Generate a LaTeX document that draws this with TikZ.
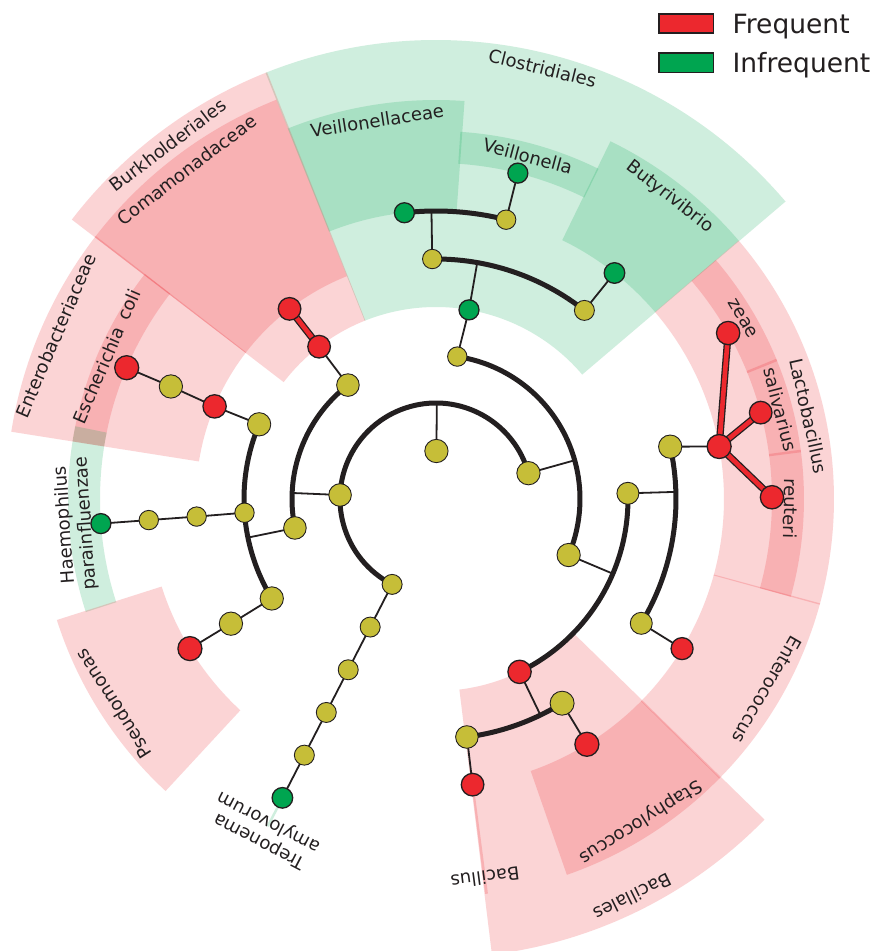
\documentclass[tikz,border=0pt]{standalone}
\usepackage{fontspec}
\setmainfont{DejaVu Sans}
\definecolor{outl}{RGB}{35,31,32}
\definecolor{cred}{RGB}{236,40,46}
\definecolor{cgreen}{RGB}{0,165,80}
\definecolor{cyel}{RGB}{198,190,56}
\definecolor{sred}{RGB}{237,28,36}
\definecolor{sgreen}{RGB}{0,166,81}
\definecolor{txt}{RGB}{35,31,32}
\pgfdeclarelayer{bg}
\pgfdeclarelayer{edges}
\pgfsetlayers{bg,edges,main}
\newcommand{\sect}[5]{\fill[#5, fill opacity=0.19] (#1:#3pt) arc[start angle=#1, end angle=#2, radius=#3pt] -- (#2:#4pt) arc[start angle=#2, end angle=#1, radius=#4pt] -- cycle;}
\begin{document}
\begin{tikzpicture}[x=1pt,y=1pt,
  yn/.style={circle,draw=outl,line width=0.9pt,fill=cyel,inner sep=0pt},
  rn/.style={circle,draw=outl,line width=1.3pt,fill=cred,inner sep=0pt},
  gn/.style={circle,draw=outl,line width=1.3pt,fill=cgreen,inner sep=0pt},
  br/.style={draw=outl,line width=1.8pt},
  clade/.style={draw=outl,line width=5pt},
  redge/.style={draw=outl,double=cred,double distance=4.6pt,line width=1.3pt},
  lbl/.style={text=txt,font=\fontsize{18}{21}\selectfont,inner sep=0pt,align=center},
  leg/.style={draw=outl,line width=1.5pt,minimum width=54.2pt,minimum height=19.2pt,inner sep=0pt},
  legt/.style={anchor=base west,inner sep=0pt,text=txt,font=\fontsize{26.5}{30}\selectfont}]
\useasboundingbox (-436,-452) rectangle (441,499);
\begin{pgfonlayer}{bg}
\fill[white] (-436,-452) rectangle (441,499);
% Clostridiales group
\sect{40.4}{111.8}{192}{459}{sgreen}
\sect{85.9}{111.8}{288}{399}{sgreen}
\sect{63.8}{86.2}{336}{368}{sgreen}
\sect{40.5}{64}{288}{398}{sgreen}
% Proteobacteria
\sect{111.6}{142.5}{192}{459}{sred}
\sect{111.8}{142.5}{240}{430}{sred}
\sect{142.3}{171}{240}{430}{sred}
\sect{142.3}{171}{336}{368}{sred}
\sect{168.6}{197.9}{336}{368}{sgreen}
\sect{197.7}{227.2}{288}{398}{sred}
\sect{242.6}{243.0}{336}{368}{sgreen}
% Bacilli
\sect{-83}{-44.3}{192}{459}{sred}
\sect{-82.9}{-82.5}{288}{398}{sred}
\sect{-70.8}{-44.5}{288}{398}{sred}
\sect{-44.6}{-15.2}{288}{398}{sred}
\sect{-15.4}{40.5}{288}{398}{sred}
\sect{22.0}{40.5}{336}{368}{sred}
\sect{7.3}{22.4}{336}{368}{sred}
\sect{-15.4}{7.7}{336}{368}{sred}
\end{pgfonlayer}

% nodes
\node[yn,minimum size=23.3pt] (root) at (89.5:48pt) {};
\node[yn,minimum size=20pt] (p1) at (242.8:96pt) {};
\node[yn,minimum size=22.6pt] (p2) at (177.6:96pt) {};
\node[yn,minimum size=23.3pt] (p3) at (15.6:96pt) {};
\node[yn,minimum size=20pt] (tr3) at (242.8:144pt) {};
\node[yn,minimum size=20pt] (tr4) at (242.8:192pt) {};
\node[yn,minimum size=20pt] (tr5) at (242.8:240pt) {};
\node[yn,minimum size=20pt] (tr6) at (242.8:288pt) {};
\node[gn,minimum size=20.6pt] (tr7) at (242.8:336pt) {};
\node[yn,minimum size=22.6pt] (beta) at (127.7:144pt) {};
\node[rn,minimum size=22.6pt] (burk) at (127.5:192pt) {};
\node[rn,minimum size=22.6pt] (coma) at (127.6:240pt) {};
\node[yn,minimum size=22.6pt] (gam) at (191.6:144pt) {};
\node[yn,minimum size=23.3pt] (entb) at (157.1:192pt) {};
\node[rn,minimum size=23.3pt] (entc) at (157.3:240pt) {};
\node[yn,minimum size=23.3pt] (esch) at (157.0:288pt) {};
\node[rn,minimum size=24pt] (ecol) at (157.0:336pt) {};
\node[yn,minimum size=19.4pt] (past) at (184.1:192pt) {};
\node[yn,minimum size=19.4pt] (pas5) at (184.2:240pt) {};
\node[yn,minimum size=19.4pt] (pas6) at (184.2:288pt) {};
\node[gn,minimum size=20pt] (haem) at (184.2:336pt) {};
\node[yn,minimum size=23.3pt] (psm4) at (211.2:192pt) {};
\node[yn,minimum size=23.3pt] (psm5) at (211.3:240pt) {};
\node[rn,minimum size=24pt] (psm6) at (211.3:288pt) {};
\node[yn,minimum size=19.4pt] (clo3) at (81.5:144pt) {};
\node[gn,minimum size=20pt] (clo4) at (80.1:192pt) {};
\node[yn,minimum size=19.4pt] (fa5) at (90.9:240pt) {};
\node[gn,minimum size=20pt] (veil6) at (96.3:288pt) {};
\node[yn,minimum size=19.4pt] (vg6) at (75.9:288pt) {};
\node[gn,minimum size=20pt] (vg7) at (75.9:336pt) {};
\node[yn,minimum size=20pt] (fb5) at (51.8:240pt) {};
\node[gn,minimum size=20.6pt] (buty) at (51.7:288pt) {};
\node[yn,minimum size=23.3pt] (bac3) at (-22.9:144pt) {};
\node[yn,minimum size=22pt] (lac4) at (1.7:192pt) {};
\node[yn,minimum size=23.3pt] (lac5) at (12.6:240pt) {};
\node[rn,minimum size=24pt] (lac6) at (10.5:288pt) {};
\node[rn,minimum size=23.3pt] (zeae) at (29.6:336pt) {};
\node[rn,minimum size=22.6pt] (sali) at (14.9:336pt) {};
\node[rn,minimum size=23.3pt] (reut) at (0.3:336pt) {};
\node[yn,minimum size=22pt] (ent5) at (-31.2:240pt) {};
\node[rn,minimum size=22pt] (ent6) at (-31.3:288pt) {};
\node[rn,minimum size=23.3pt] (bcl4) at (-64.2:192pt) {};
\node[yn,minimum size=22.6pt] (bcl5) at (-82.6:240pt) {};
\node[rn,minimum size=22.6pt] (bcl6) at (-82.7:288pt) {};
\node[yn,minimum size=24pt] (stp5) at (-58.3:240pt) {};
\node[rn,minimum size=24pt] (stp6) at (-58.4:288pt) {};

% junctions on arcs
\coordinate (j-root) at (89.5:96pt);
\coordinate (j-p2) at (177.6:144pt);
\coordinate (j-gam) at (191.6:192pt);
\coordinate (j-p3) at (15.6:144pt);
\coordinate (j-clo4) at (80.1:240pt);
\coordinate (j-fa5) at (90.9:288pt);
\coordinate (j-bac3) at (-22.9:192pt);
\coordinate (j-lac4) at (1.7:240pt);
\coordinate (j-bcl4) at (-64.2:240pt);

\begin{pgfonlayer}{edges}
\draw[clade] (p3.center) arc[start angle=15.6,end angle=242.8,radius=96pt];
\draw[clade] (beta.center) arc[start angle=127.7,end angle=191.6,radius=144pt];
\draw[clade] (entb.center) arc[start angle=157.1,end angle=211.2,radius=192pt];
\draw[clade] (bac3.center) arc[start angle=-22.9,end angle=81.5,radius=144pt];
\draw[clade] (fb5.center) arc[start angle=51.8,end angle=90.9,radius=240pt];
\draw[clade] (vg6.center) arc[start angle=75.9,end angle=96.3,radius=288pt];
\draw[clade] (bcl4.center) arc[start angle=-64.2,end angle=1.7,radius=192pt];
\draw[clade] (ent5.center) arc[start angle=-31.2,end angle=12.6,radius=240pt];
\draw[clade] (bcl5.center) arc[start angle=-82.6,end angle=-58.3,radius=240pt];
\draw[br] (root.center) -- (j-root);
\draw[br] (p2.center) -- (j-p2);
\draw[br] (gam.center) -- (j-gam);
\draw[br] (p3.center) -- (j-p3);
\draw[br] (clo4.center) -- (j-clo4);
\draw[br] (fa5.center) -- (j-fa5);
\draw[br] (bac3.center) -- (j-bac3);
\draw[br] (lac4.center) -- (j-lac4);
\draw[br] (bcl4.center) -- (j-bcl4);
\draw[br] (p1.center) -- (tr3.center) -- (tr4.center) -- (tr5.center) -- (tr6.center) -- (tr7.center);
\draw[br] (beta.center) -- (burk.center);
\draw[br] (entb.center) -- (entc.center) -- (esch.center) -- (ecol.center);
\draw[br] (past.center) -- (pas5.center) -- (pas6.center) -- (haem.center);
\draw[br] (psm4.center) -- (psm5.center) -- (psm6.center);
\draw[br] (clo3.center) -- (clo4.center);
\draw[br] (vg6.center) -- (vg7.center);
\draw[br] (fb5.center) -- (buty.center);
\draw[br] (lac5.center) -- (lac6.center);
\draw[br] (ent5.center) -- (ent6.center);
\draw[br] (bcl5.center) -- (bcl6.center);
\draw[br] (stp5.center) -- (stp6.center);
\draw[redge] (burk.center) -- (coma.center);
\draw[redge] (lac6.center) -- (zeae.center);
\draw[redge] (lac6.center) -- (sali.center);
\draw[redge] (lac6.center) -- (reut.center);
\end{pgfonlayer}

% labels
\node[lbl,rotate=-13.9] (l-clos) at (76.1:444pt) {Clostridiales};
\node[lbl,rotate=8.85] (l-veilf) at (98.85:383pt) {Veillonellaceae};
\node[lbl,rotate=-15] (l-veil) at (75.0:355pt) {Veillonella};
\node[lbl,rotate=-37.75] (l-buty) at (52.25:382pt) {Butyrivibrio};
\node[lbl,rotate=37.15] (l-burk) at (127.15:444pt) {Burkholderiales};
\node[lbl,rotate=37.15] (l-coma) at (127.15:413pt) {Comamonadaceae};
\node[lbl,rotate=66.75] (l-entc) at (156.75:414pt) {Enterobacteriaceae};
\node[lbl,rotate=66.6] (l-ecol) at (156.6:359pt) {Escherichia\hspace{0.55em}coli};
\node[lbl,rotate=94] (l-haem) at (184:361pt) {Haemophilus\\parainfluenzae};
\node[lbl,rotate=122.45] (l-pseu) at (212.45:382pt) {Pseudomonas};
\node[lbl,rotate=152.7] (l-trep) at (242.7:374pt) {Treponema\\amylovorum};
\node[lbl,rotate=-172.6] (l-bcls) at (-82.6:382pt) {Bacillus};
\node[lbl,rotate=-153.7] (l-bcll) at (-63.7:444pt) {Bacillales};
\node[lbl,rotate=-147.65] (l-stap) at (-57.65:382pt) {Staphylococcus};
\node[lbl,rotate=-119.95] (l-ente) at (-29.95:382pt) {Enterococcus};
\node[lbl,rotate=-77.45] (l-lact) at (12.55:382pt) {Lactobacillus};
\node[lbl,rotate=-59.5] (l-zeae) at (30.5:356pt) {zeae};
\node[lbl,rotate=-75.4] (l-sali) at (14.6:356pt) {salivarius};
\node[lbl,rotate=-91.5] (l-reut) at (-1.5:355pt) {reuteri};

% legend
\node[leg,fill=cred] (lg-r) at (250.15,475.35) {};
\node[leg,fill=cgreen] (lg-g) at (250.15,436.3) {};
\node[legt] (lg-rt) at (296.4,465.7) {Frequent};
\node[legt] (lg-gt) at (296.4,426.3) {Infrequent};
\end{tikzpicture}
\end{document}
